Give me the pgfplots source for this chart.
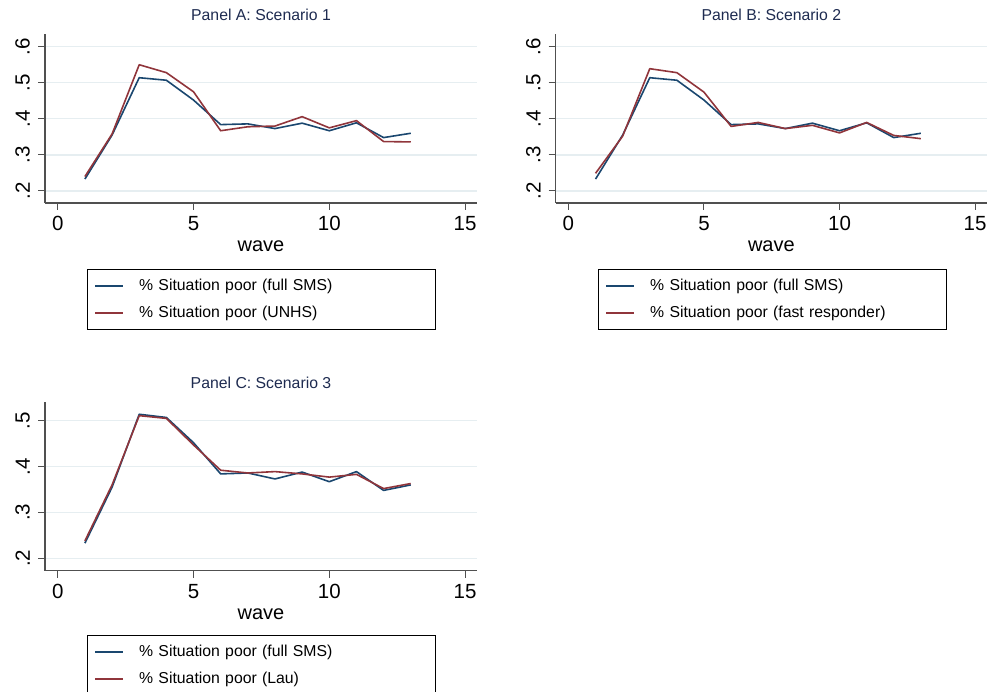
\documentclass[border=0pt]{standalone}
\usepackage{pgfplots}
\pgfplotsset{compat=1.18}
\usepackage{pgfplotstable}
\usepackage{fontspec}
\setmainfont{Liberation Sans}
\definecolor{stnavy}{HTML}{1A476F}
\definecolor{stmaroon}{HTML}{90353B}
\definecolor{gridc}{HTML}{E6EEF1}
\definecolor{axc}{HTML}{505050}
\definecolor{titc}{HTML}{1E2B50}

\pgfplotstableread{
wave full unhs fast lau
1  0.233 0.240 0.249 0.238
2  0.355 0.358 0.352 0.360
3  0.514 0.550 0.539 0.511
4  0.507 0.528 0.528 0.505
5  0.452 0.475 0.474 0.447
6  0.384 0.367 0.379 0.392
7  0.386 0.378 0.390 0.386
8  0.373 0.380 0.373 0.389
9  0.388 0.406 0.382 0.384
10 0.367 0.375 0.361 0.377
11 0.389 0.395 0.390 0.383
12 0.348 0.337 0.354 0.352
13 0.360 0.336 0.345 0.363
}\datatab

\pgfplotsset{
  panel/.style={
    scale only axis,
    anchor=south west,
    height=169pt,
    xmin=-0.47, xmax=15.44,
    xtick={0,5,10,15},
    xticklabels={0,5,10,15},
    axis lines=left,
    axis line style={-, color=axc, line width=1.1pt},
    tick style={color=axc, line width=1pt},
    tick align=outside,
    major tick length=7pt,
    xtick pos=bottom, ytick pos=left,
    ymajorgrids,
    major grid style={color=gridc, line width=1.2pt},
    ticklabel style={font=\fontsize{20.5}{22}\selectfont, text=black},
    yticklabel style={rotate=90, anchor=south, inner xsep=0pt, inner ysep=8pt},
    xticklabel style={inner xsep=0pt, inner ysep=6pt},
    xlabel={wave},
    xlabel style={font=\fontsize{20}{22}\selectfont, at={(axis description cs:0.5,-0.288)}, anchor=base},
    title style={font=\fontsize{15.8}{18}\selectfont, text=titc, at={(axis description cs:0.5,1.045)}, anchor=base},
    legend cell align=left,
    legend image code/.code={\path[draw=none] (0pt,0pt) -- (8.3pt,0pt); \draw[#1] (8.3pt,0pt) -- (36.3pt,0pt);},
    legend style={anchor=north west, draw=black, line width=0.8pt, inner xsep=0pt, inner ysep=3pt,
      font=\fontsize{15.8}{18}\selectfont, row sep=0pt,
      nodes={inner sep=0pt, minimum height=27pt, text width=296pt, align=left},
      /tikz/every odd column/.append style={column sep=15pt}},
    every axis plot/.append style={line width=1.6pt, line join=round},
    /pgf/number format/assume math mode=true,
    clip=false,
  },
  ab/.style={ymin=0.1667, ymax=0.6352, ytick={0.2,0.3,0.4,0.5,0.6}, yticklabels={.2,.3,.4,.5,.6}},
}

\begin{document}
\begin{tikzpicture}
\path[use as bounding box] (0,0) rectangle (987pt,692pt);

\begin{axis}[panel, ab, at={(45pt,489pt)}, width=432pt,
  title={Panel A: Scenario 1},
  legend style={at={(axis description cs:0.0965,-0.3905)}}]
\addplot[stnavy] table[x=wave, y=full] {\datatab};
\addplot[stmaroon] table[x=wave, y=unhs] {\datatab};
\legend{\% Situation poor (full SMS), \% Situation poor (UNHS)}
\end{axis}

\begin{axis}[panel, ab, at={(555.7pt,489pt)}, width=431.3pt,
  title={Panel B: Scenario 2},
  legend style={at={(axis description cs:0.0974,-0.3905)}}]
\addplot[stnavy] table[x=wave, y=full] {\datatab};
\addplot[stmaroon] table[x=wave, y=fast] {\datatab};
\legend{\% Situation poor (full SMS), \% Situation poor (fast responder)}
\end{axis}

\begin{axis}[panel, at={(45pt,121.3pt)}, width=432pt,
  ymin=0.173, ymax=0.5414, ytick={0.2,0.3,0.4,0.5}, yticklabels={.2,.3,.4,.5},
  title={Panel C: Scenario 3},
  legend style={at={(axis description cs:0.0965,-0.3805)}}]
\addplot[stnavy] table[x=wave, y=full] {\datatab};
\addplot[stmaroon] table[x=wave, y=lau] {\datatab};
\legend{\% Situation poor (full SMS), \% Situation poor (Lau)}
\end{axis}
\end{tikzpicture}
\end{document}
